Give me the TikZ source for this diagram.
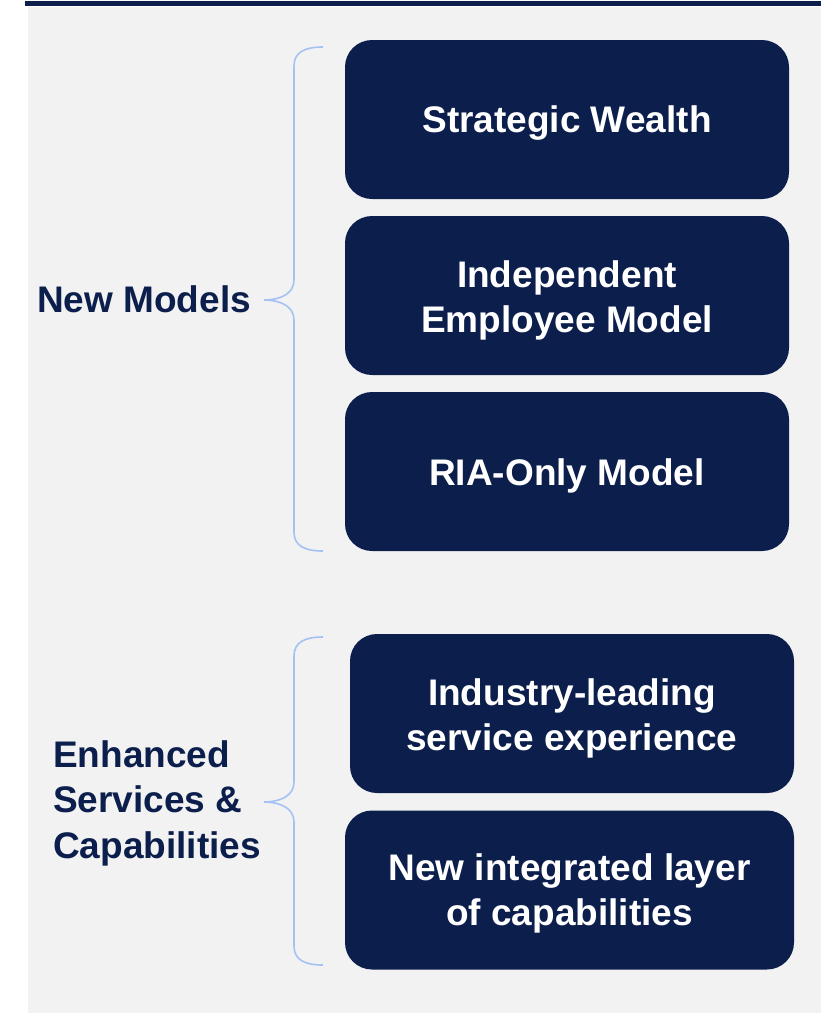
\documentclass[tikz,border=0pt]{standalone}
\usepackage{fontspec}
\setmainfont{Liberation Sans}
\definecolor{navy}{HTML}{0B1E4C}
\definecolor{bgray}{HTML}{F2F2F2}
\definecolor{braceblue}{HTML}{A4C2F4}
\begin{document}
\begin{tikzpicture}[x=1pt,y=-1pt,
  box/.style={fill=navy,rounded corners=27pt,inner sep=0pt,
    minimum width=444pt,minimum height=159pt},
  boxtext/.style={text=white,inner sep=0pt,
    font=\fontsize{37}{45}\selectfont\bfseries,align=center},
  label/.style={text=navy,inner sep=0pt,font=\fontsize{37}{45.5}\selectfont\bfseries,align=left},
  brace/.style={draw=braceblue,line width=1.6pt}]
\useasboundingbox (0,0) rectangle (821,1013);
\fill[white] (0,0) rectangle (821,1013);
\fill[bgray] (28,7) rectangle (821,1013);
\fill[navy] (25,1) rectangle (821,6);
% boxes
\node[box] (b1) at (567,119.5) {};
\node[box] (b2) at (567,295.5) {};
\node[box] (b3) at (567,471.5) {};
\node[box] (b4) at (572,713.5) {};
\node[box,minimum width=449pt] (b5) at (569.5,890) {};
\node[boxtext] (t1) at ([yshift=-4pt]b1.center) {Strategic Wealth};
\node[boxtext] (t2) at ([yshift=-5pt]b2.center) {Independent\\Employee Model};
\node[boxtext] (t3) at ([yshift=-4pt]b3.center) {RIA-Only Model};
\node[boxtext] (t4) at ([yshift=-5pt]b4.center) {Industry-leading\\service experience};
\node[boxtext] (t5) at ([yshift=-3pt]b5.center) {New integrated layer\\of capabilities};
% labels
\node[label,anchor=base west] (l1) at (37,312) {New Models};
\node[label,anchor=base west] (l2) at (53,858) {Enhanced\\Services \&\\Capabilities};
% braces
\coordinate (bt1) at (323,47);
\coordinate (bm1) at (264,300);
\coordinate (be1) at (323,551);
\draw[brace] (bt1) .. controls (305,47) and (294,52) .. (294,66) -- (294,280)
  .. controls (294,294) and (280,300) .. (bm1)
  .. controls (280,300) and (294,306) .. (294,320) -- (294,532)
  .. controls (294,546) and (305,551) .. (be1);
\coordinate (bt2) at (323,637);
\coordinate (bm2) at (264,802);
\coordinate (be2) at (323,965);
\draw[brace] (bt2) .. controls (305,637) and (294,642) .. (294,656) -- (294,782)
  .. controls (294,796) and (280,802) .. (bm2)
  .. controls (280,802) and (294,808) .. (294,822) -- (294,946)
  .. controls (294,960) and (305,965) .. (be2);
\end{tikzpicture}
\end{document}
